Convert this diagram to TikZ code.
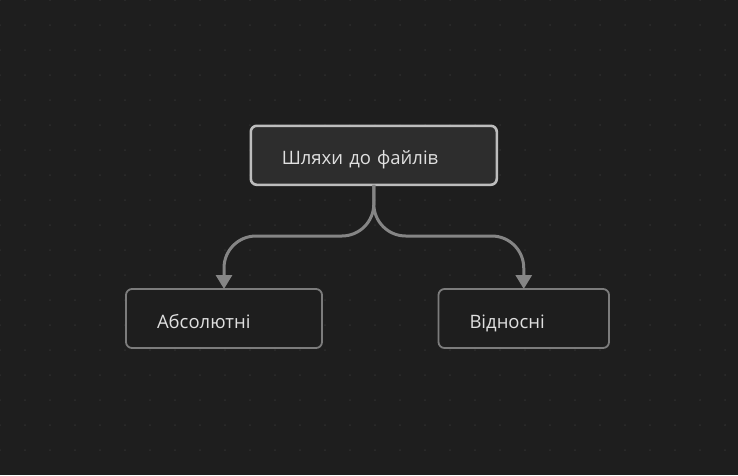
\documentclass[tikz,border=0pt]{standalone}
\usepackage{fontspec}
\setmainfont{Open Sans}
\usetikzlibrary{arrows.meta}
\definecolor{bg}{HTML}{1E1E1E}
\definecolor{dotc}{HTML}{2E2E2E}
\definecolor{topfill}{HTML}{2D2D2D}
\definecolor{topborder}{HTML}{BDBDBD}
\definecolor{childborder}{HTML}{7C7C7C}
\definecolor{conncol}{HTML}{858585}
\definecolor{txt}{HTML}{E0E0E0}
\tikzset{
  box/.style={draw, rounded corners=6pt, minimum height=59pt, text height=19pt, text depth=0pt, inner xsep=31pt, outer sep=0pt, align=left, text=txt, font=\fontsize{18.5}{22}\selectfont, anchor=north west},
  topbox/.style={box, fill=topfill, draw=topborder, line width=2.6pt},
  childbox/.style={box, fill=bg, draw=childborder, line width=1.8pt},
  conn/.style={draw=conncol, line width=3pt, rounded corners=32pt, -{Triangle[width=16pt,length=14pt]}}
}
\begin{document}
\begin{tikzpicture}[x=1pt,y=-1pt]
\fill[bg] (0,0) rectangle (738,475);
\useasboundingbox (0,0) rectangle (738,475);
\foreach \i in {0,...,29} {\foreach \j in {0,...,18} {\fill[dotc] (\i*25,\j*25) circle (1);}}
\node[topbox, text width=184pt] (top) at (250.8,125.8) {Шляхи до файлів};
\node[childbox, text width=134pt] (abs) at (126,289) {Абсолютні};
\node[childbox, text width=108.5pt] (rel) at (438.5,289) {Відносні};
\coordinate (m) at (top.south |- 0,236);
\coordinate (la) at (abs.north |- 0,236);
\coordinate (ra) at (rel.north |- 0,236);
\draw[conn] (top.south) -- (m) -- (la) -- (abs.north);
\draw[conn] (top.south) -- (m) -- (ra) -- (rel.north);
\end{tikzpicture}
\end{document}
